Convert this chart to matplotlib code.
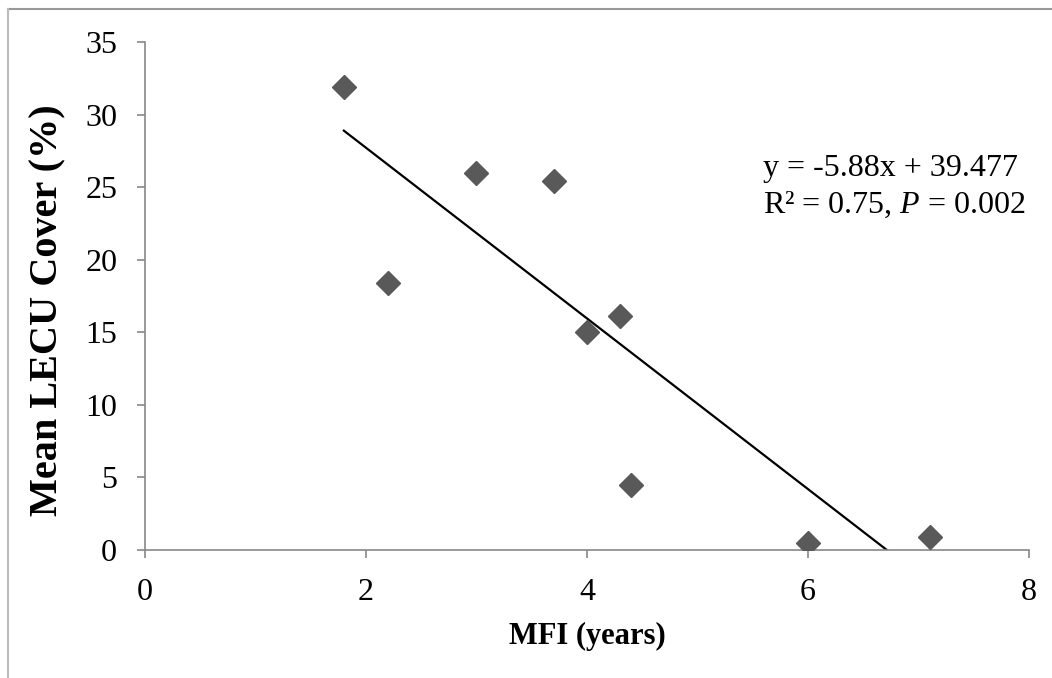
import matplotlib
matplotlib.use('Agg')
import matplotlib.pyplot as plt
from matplotlib.lines import Line2D
import numpy as np

# MFI (years) vs mean LECU cover (%)
mfi = [1.8, 2.2, 3.0, 3.7, 4.0, 4.3, 4.4, 6.0, 7.1]
cover = [31.9, 18.4, 26.0, 25.4, 15.0, 16.1, 4.5, 0.5, 0.9]
slope = -5.88
intercept = 39.477
x_ticks = [0, 2, 4, 6, 8]
y_ticks = [0, 5, 10, 15, 20, 25, 30, 35]

plt.rcParams['font.family'] = ['Liberation Serif', 'DejaVu Serif']
plt.rcParams['mathtext.fontset'] = 'custom'
plt.rcParams['mathtext.rm'] = 'Liberation Serif'
plt.rcParams['mathtext.it'] = 'Liberation Serif:italic'

fig = plt.figure(figsize=(10.52, 6.78), dpi=100)
ax = fig.add_axes([0.1378, 0.1888, 0.8403, 0.7492])

ax.plot(mfi, cover, linestyle='none', marker='D', markersize=12,
        color='#595959', zorder=3)

# linear trendline, clipped by the y axis minimum
xl = np.array([min(mfi), max(mfi)])
ax.plot(xl, slope * xl + intercept, color='black', linewidth=1.6, zorder=2)

ax.set_xlim(0, 8)
ax.set_ylim(0, 35)
ax.set_xticks(x_ticks)
ax.set_yticks(y_ticks)
ax.tick_params(labelsize=23, length=6, width=1.2, color='#888888')
ax.tick_params(axis='y', pad=14)
ax.tick_params(axis='x', pad=14)

for side in ['top', 'right']:
    ax.spines[side].set_visible(False)
for side in ['left', 'bottom']:
    ax.spines[side].set_color('#888888')
    ax.spines[side].set_linewidth(1.2)

ax.set_xlabel('MFI (years)', fontsize=22, fontweight='bold')
ax.set_ylabel('Mean LECU Cover (%)', fontsize=29, fontweight='bold')
ax.xaxis.set_label_coords(0.5, -0.171)
ax.yaxis.set_label_coords(-0.11, 0.472)
ax.xaxis.label.set_va('center')
ax.yaxis.label.set_va('center')

ax.text(5.59, 26.3, 'y = -5.88x + 39.477', fontsize=23, va='center', ha='left')
ax.text(5.59, 23.75, 'R² = 0.75, $\\it{P}$ = 0.002', fontsize=23, va='center', ha='left')

# partial chart border (top and left edges)
fig.add_artist(Line2D([8 / 1052, 1], [1 - 9 / 678, 1 - 9 / 678],
                      transform=fig.transFigure, color='#999999', linewidth=1.5))
fig.add_artist(Line2D([8 / 1052, 8 / 1052], [0, 1 - 9 / 678],
                      transform=fig.transFigure, color='#bbbbbb', linewidth=1.5))

fig.savefig('out.png', dpi=100)
